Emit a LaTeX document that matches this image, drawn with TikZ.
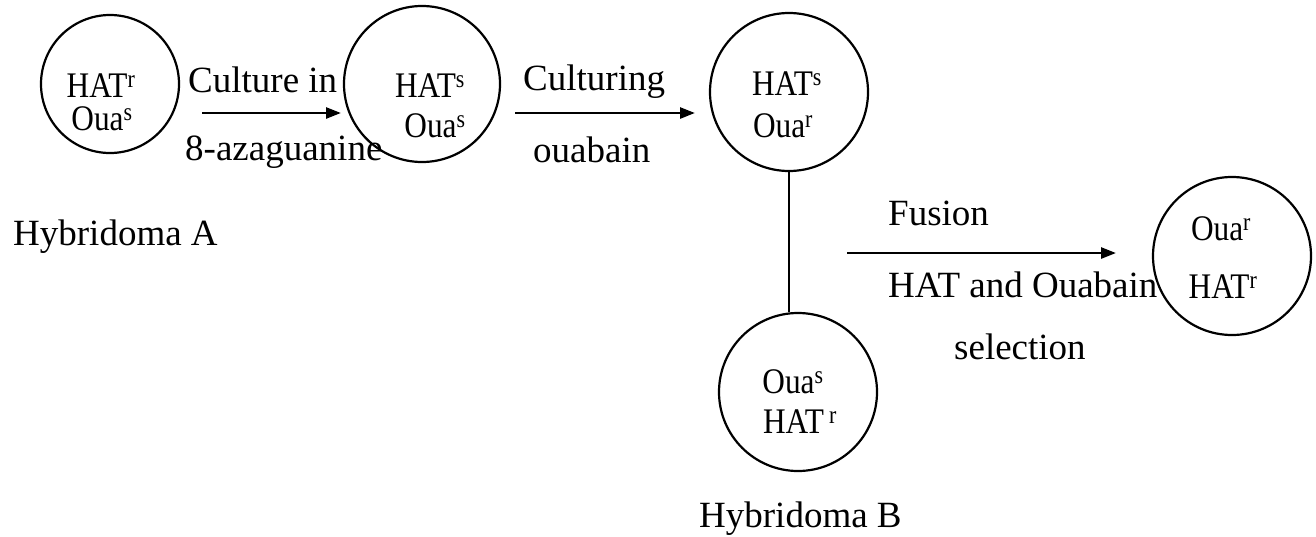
\documentclass[tikz,border=0pt]{standalone}
\usepackage{fontspec}
\setmainfont{Liberation Serif}
\usetikzlibrary{arrows.meta}
\newcommand{\cn}[1]{\scalebox{0.87}[1]{#1}}
\begin{document}
\begin{tikzpicture}[x=1pt,y=-1pt,
  cell/.style={draw, circle, line width=2.2pt, inner sep=0pt},
  txt/.style={anchor=base west, inner sep=0pt, font=\fontsize{37}{44}\selectfont},
  ctxt/.style={anchor=base, inner sep=0pt, font=\fontsize{36}{44}\selectfont},
  arr/.style={line width=2.6pt, -{Triangle[length=15pt,width=11pt]}},
  link/.style={line width=2.2pt}]
\useasboundingbox (0,0) rectangle (1316,536);
% cells
\node[cell, minimum size=138pt] (c1) at (110,84) {};
\node[cell, minimum size=156pt] (c2) at (422,84) {};
\node[cell, minimum size=158pt] (c3) at (789,92) {};
\node[cell, minimum size=158pt] (c4) at (798,392) {};
\node[cell, minimum size=158pt] (c5) at (1232,256) {};
% cell texts
\node[ctxt] (c1a) at (101,97) {\cn{HAT\textsuperscript{r}}};
\node[ctxt] (c1b) at (102,130) {\cn{Oua\textsuperscript{s}}};
\node[ctxt] (c2a) at (430,97) {\cn{HAT\textsuperscript{s}}};
\node[ctxt] (c2b) at (435,137) {\cn{Oua\textsuperscript{s}}};
\node[ctxt] (c3a) at (787,95) {\cn{HAT\textsuperscript{s}}};
\node[ctxt] (c3b) at (783,137) {\cn{Oua\textsuperscript{r}}};
\node[ctxt] (c4a) at (793,393) {\cn{Oua\textsuperscript{s}}};
\node[ctxt] (c4b) at (800,433) {\cn{HAT\,\textsuperscript{r}}};
\node[ctxt] (c5a) at (1221,240) {\cn{Oua\textsuperscript{r}}};
\node[ctxt] (c5b) at (1223,298) {\cn{HAT\textsuperscript{r}}};
% labels
\node[txt] (l1) at (188,92) {Culture in};
\node[txt] (l2) at (185,160) {8-azaguanine};
\node[txt] (l3) at (523,90) {Culturing};
\node[txt] (l4) at (533,162) {ouabain};
\node[txt] (hA) at (13,245) {Hybridoma A};
\node[txt] (l5) at (888,225) {Fusion};
\node[txt] (l6) at (888,297) {HAT and Ouabain};
\node[txt] (l7) at (954,359) {selection};
\node[txt] (hB) at (699,527) {Hybridoma B};
% connectors
\coordinate (a1s) at (202,113);
\coordinate (a1e) at (341,113);
\coordinate (a2s) at (515,113);
\coordinate (a2e) at (695,113);
\coordinate (a3s) at (847,253);
\coordinate (a3e) at (1116,253);
\draw[arr] (a1s) -- (a1e);
\draw[arr] (a2s) -- (a2e);
\draw[arr] (a3s) -- (a3e);
\draw[link] (c3.south) -- (c4.north -| c3.south);
\end{tikzpicture}
\end{document}
